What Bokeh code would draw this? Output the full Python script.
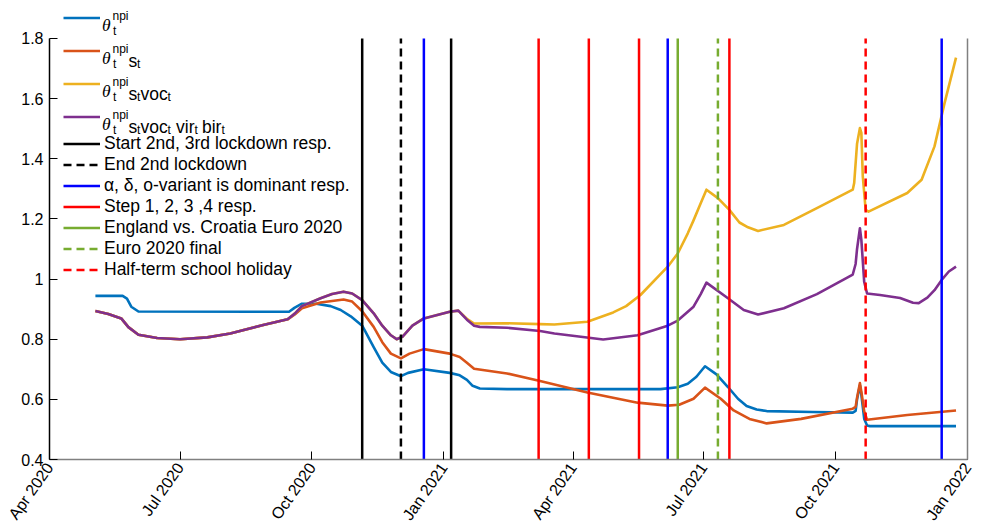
import math
import pandas as pd
from bokeh.plotting import figure
from bokeh.models import (Range1d, LinearAxis, Legend, LegendItem, Label,
                          FixedTicker, CustomJSTickFormatter)
from bokeh.core.properties import value
from bokeh.embed import file_html
from bokeh.resources import INLINE

# ---------------- data ----------------
X_START, X_END = "2020-04-01", "2022-01-01"
Y_MIN, Y_MAX = 0.4, 1.8

X_TICKS = ["2020-04-01", "2020-07-01", "2020-10-01", "2021-01-01",
           "2021-04-01", "2021-07-01", "2021-10-01", "2022-01-01"]
X_TICK_LABELS = ["Apr 2020", "Jul 2020", "Oct 2020", "Jan 2021",
                 "Apr 2021", "Jul 2021", "Oct 2021", "Jan 2022"]
Y_TICKS = [0.4, 0.6, 0.8, 1.0, 1.2, 1.4, 1.6, 1.8]
Y_TICK_LABELS = ["0.4", "0.6", "0.8", "1", "1.2", "1.4", "1.6", "1.8"]

NPI_DATES = ["2020-05-03", "2020-05-22", "2020-05-25", "2020-05-28", "2020-06-02",
             "2020-09-15", "2020-09-19", "2020-09-24", "2020-10-04", "2020-10-14",
             "2020-10-21", "2020-10-28", "2020-11-05", "2020-11-13", "2020-11-19",
             "2020-11-25", "2020-12-02", "2020-12-07", "2020-12-18", "2021-01-05",
             "2021-01-12", "2021-01-17", "2021-01-21", "2021-01-26", "2021-02-14",
             "2021-06-01", "2021-06-13", "2021-06-20", "2021-06-26", "2021-07-02",
             "2021-07-10", "2021-07-18", "2021-07-25", "2021-07-31", "2021-08-07",
             "2021-08-14", "2021-09-15", "2021-10-13", "2021-10-15", "2021-10-16",
             "2021-10-18", "2021-10-19", "2021-10-21", "2021-10-23", "2021-10-25",
             "2021-12-24"]
NPI_VALS = [0.944, 0.944, 0.935, 0.908, 0.892,
            0.891, 0.905, 0.918, 0.918, 0.910,
            0.897, 0.876, 0.845, 0.774, 0.722,
            0.691, 0.677, 0.688, 0.700, 0.688,
            0.680, 0.665, 0.645, 0.636, 0.634,
            0.634, 0.640, 0.652, 0.675, 0.710,
            0.683, 0.641, 0.602, 0.578, 0.566,
            0.561, 0.558, 0.556, 0.562, 0.600,
            0.647, 0.615, 0.535, 0.513, 0.511,
            0.511]

S_DATES = ["2020-05-03", "2020-05-12", "2020-05-21", "2020-05-26", "2020-06-02",
           "2020-06-15", "2020-07-01", "2020-07-20", "2020-08-05", "2020-08-28",
           "2020-09-14", "2020-09-19", "2020-09-24", "2020-10-07", "2020-10-23",
           "2020-10-29", "2020-11-05", "2020-11-13", "2020-11-19", "2020-11-25",
           "2020-12-02", "2020-12-08", "2020-12-18", "2021-01-05", "2021-01-12",
           "2021-01-17", "2021-01-22", "2021-02-14", "2021-03-09", "2021-04-11",
           "2021-05-16", "2021-06-06", "2021-06-14", "2021-06-24", "2021-07-02",
           "2021-07-13", "2021-07-22", "2021-08-02", "2021-08-14", "2021-09-07",
           "2021-10-13", "2021-10-15", "2021-10-16", "2021-10-18", "2021-10-19",
           "2021-10-21", "2021-10-23", "2021-11-20", "2021-12-24"]
S_VALS = [0.894, 0.884, 0.869, 0.840, 0.815,
          0.804, 0.800, 0.806, 0.819, 0.847,
          0.866, 0.882, 0.903, 0.922, 0.932,
          0.925, 0.893, 0.841, 0.790, 0.752,
          0.736, 0.752, 0.767, 0.752, 0.741,
          0.722, 0.702, 0.686, 0.661, 0.623,
          0.589, 0.579, 0.582, 0.602, 0.639,
          0.602, 0.563, 0.535, 0.520, 0.535,
          0.569, 0.575, 0.605, 0.654, 0.625,
          0.560, 0.532, 0.548, 0.563]

VOC_DATES = ["2020-05-03", "2020-05-12", "2020-05-21", "2020-05-26", "2020-06-02",
             "2020-06-15", "2020-07-01", "2020-07-20", "2020-08-05", "2020-08-28",
             "2020-09-14", "2020-09-19", "2020-09-24", "2020-10-07", "2020-10-15",
             "2020-10-23", "2020-10-29", "2020-11-05", "2020-11-13", "2020-11-19",
             "2020-11-25", "2020-11-29", "2020-12-03", "2020-12-10", "2020-12-18",
             "2021-01-05", "2021-01-11", "2021-01-17", "2021-01-22", "2021-02-14",
             "2021-03-09", "2021-03-19", "2021-04-11", "2021-04-29", "2021-05-08",
             "2021-05-18", "2021-06-06", "2021-06-13", "2021-06-20", "2021-06-24",
             "2021-06-29", "2021-07-03", "2021-07-11", "2021-07-19", "2021-07-26",
             "2021-08-01", "2021-08-08", "2021-08-26", "2021-09-18", "2021-10-13",
             "2021-10-14", "2021-10-16", "2021-10-18", "2021-10-19", "2021-10-20",
             "2021-10-22", "2021-10-24", "2021-11-20", "2021-11-30", "2021-12-09",
             "2021-12-16", "2021-12-24"]
VOC_VALS = [0.894, 0.884, 0.869, 0.840, 0.815,
            0.804, 0.800, 0.806, 0.819, 0.847,
            0.866, 0.885, 0.910, 0.936, 0.950,
            0.958, 0.952, 0.930, 0.886, 0.845,
            0.813, 0.800, 0.808, 0.845, 0.869,
            0.891, 0.895, 0.868, 0.852, 0.853,
            0.850, 0.849, 0.858, 0.889, 0.910,
            0.947, 1.041, 1.085, 1.152, 1.195,
            1.252, 1.297, 1.269, 1.230, 1.188,
            1.172, 1.160, 1.180, 1.236, 1.297,
            1.319, 1.450, 1.502, 1.486, 1.341,
            1.230, 1.224, 1.286, 1.330, 1.441,
            1.585, 1.736]

VIR_DATES = ["2020-05-03", "2020-05-12", "2020-05-21", "2020-05-26", "2020-06-02",
             "2020-06-15", "2020-07-01", "2020-07-20", "2020-08-05", "2020-08-28",
             "2020-09-14", "2020-09-19", "2020-09-24", "2020-10-07", "2020-10-15",
             "2020-10-23", "2020-10-29", "2020-11-05", "2020-11-13", "2020-11-19",
             "2020-11-25", "2020-11-29", "2020-12-03", "2020-12-10", "2020-12-18",
             "2021-01-05", "2021-01-11", "2021-01-17", "2021-01-22", "2021-01-26",
             "2021-02-14", "2021-03-09", "2021-03-19", "2021-04-22", "2021-05-16",
             "2021-06-06", "2021-06-13", "2021-06-24", "2021-06-29", "2021-07-03",
             "2021-07-18", "2021-07-29", "2021-08-08", "2021-08-26", "2021-09-18",
             "2021-10-13", "2021-10-15", "2021-10-16", "2021-10-18", "2021-10-19",
             "2021-10-21", "2021-10-23", "2021-11-01", "2021-11-15", "2021-11-24",
             "2021-11-28", "2021-12-04", "2021-12-09", "2021-12-14", "2021-12-19",
             "2021-12-24"]
VIR_VALS = [0.894, 0.884, 0.869, 0.840, 0.815,
            0.804, 0.800, 0.806, 0.819, 0.847,
            0.866, 0.885, 0.910, 0.936, 0.950,
            0.958, 0.952, 0.930, 0.886, 0.845,
            0.813, 0.800, 0.808, 0.845, 0.869,
            0.891, 0.895, 0.865, 0.845, 0.841,
            0.838, 0.827, 0.819, 0.799, 0.813,
            0.845, 0.862, 0.908, 0.950, 0.988,
            0.936, 0.897, 0.882, 0.903, 0.950,
            1.015, 1.050, 1.100, 1.169, 1.130,
            0.990, 0.952, 0.947, 0.937, 0.921,
            0.920, 0.938, 0.963, 0.997, 1.025,
            1.041]

LOCKDOWN_START = ["2020-11-05", "2021-01-06"]
LOCKDOWN_END = ["2020-12-02"]
VARIANT_DOMINANT = ["2020-12-18", "2021-06-06", "2021-12-14"]
STEPS = ["2021-03-08", "2021-04-12", "2021-05-17", "2021-07-19"]
ENG_CRO = ["2021-06-13"]
EURO_FINAL = ["2021-07-11"]
HALF_TERM = ["2021-10-22"]

EVENT_LABELS = ["Start 2nd, 3rd lockdown resp.", "End 2nd lockdown",
                "\u03b1, \u03b4, o-variant is dominant resp.", "Step 1, 2, 3 ,4 resp.",
                "England vs. Croatia Euro 2020", "Euro 2020 final",
                "Half-term school holiday"]

# ---------------- layout / styles ----------------
C_BLUE, C_ORANGE, C_YELLOW, C_PURPLE = "#0072BD", "#D95319", "#EDB120", "#7E2F8E"
C_GREEN = "#77AC30"
FONT = "Liberation Sans"

FRAME_LEFT = 49.0      # canvas x of the y axis
FRAME_BOTTOM = 460.0   # canvas y of the x axis
AXIS_TOP = 38.0        # canvas y where Y_MAX sits
# the frame reaches the canvas top so that the legend above the axes is not clipped
Y_TOP = Y_MIN + (Y_MAX - Y_MIN) * FRAME_BOTTOM / (FRAME_BOTTOM - AXIS_TOP)


def ms(s):
    return pd.Timestamp(s).value / 1e6


p = figure(width=978, height=531, x_axis_type="datetime",
           output_backend="svg", toolbar_location=None,
           x_range=Range1d(ms(X_START), ms(X_END)), y_range=Range1d(Y_MIN, Y_TOP),
           min_border_left=int(FRAME_LEFT), min_border_right=11, min_border_top=0,
           min_border_bottom=71)
p.xgrid.visible = False
p.ygrid.visible = False
p.outline_line_color = None
p.background_fill_color = "white"
p.border_fill_color = "white"

# x axis
xa = p.xaxis[0]
xa.ticker = FixedTicker(ticks=[ms(t) for t in X_TICKS])
xa.formatter = CustomJSTickFormatter(
    args=dict(vals=[ms(t) for t in X_TICKS], labs=X_TICK_LABELS),
    code="const i = vals.findIndex(v => Math.abs(v - tick) < 1); return i >= 0 ? labs[i] : '';")
xa.major_label_orientation = math.radians(55)
xa.major_tick_in = 8
xa.major_tick_out = 0
xa.minor_tick_in = 0
xa.minor_tick_out = 0
xa.axis_line_color = "#808080"
xa.axis_line_width = 1.5
xa.major_tick_line_color = "black"
xa.major_label_text_font = FONT
xa.major_label_text_font_size = "16px"
xa.major_label_text_color = "black"
xa.major_label_standoff = 5

# y axis
ya = p.yaxis[0]
ya.bounds = (Y_MIN, Y_MAX)
ya.ticker = FixedTicker(ticks=Y_TICKS)
ya.formatter = CustomJSTickFormatter(
    args=dict(vals=Y_TICKS, labs=Y_TICK_LABELS),
    code="const i = vals.findIndex(v => Math.abs(v - tick) < 1e-6); return i >= 0 ? labs[i] : '';")
ya.major_tick_in = 8
ya.major_tick_out = 0
ya.minor_tick_in = 0
ya.minor_tick_out = 0
ya.axis_line_color = "black"
ya.axis_line_width = 1.5
ya.major_tick_line_color = "black"
ya.major_label_text_font = FONT
ya.major_label_text_font_size = "16px"
ya.major_label_text_color = "black"
ya.major_label_standoff = 6

# right frame edge (no labels)
ra = LinearAxis(ticker=FixedTicker(ticks=[]), bounds=(Y_MIN, Y_MAX),
                axis_line_color="#808080", axis_line_width=1.5,
                major_tick_line_color=None, minor_tick_line_color=None)
p.add_layout(ra, "right")

# series
series = [(NPI_DATES, NPI_VALS, C_BLUE), (S_DATES, S_VALS, C_ORANGE),
          (VOC_DATES, VOC_VALS, C_YELLOW), (VIR_DATES, VIR_VALS, C_PURPLE)]
series_r = []
for d, v, c in series:
    r = p.line(x=pd.to_datetime(d), y=v, line_color=c, line_width=2.6, line_join="round")
    series_r.append(r)

# events: vertical lines spanning the y axis range
events = [(LOCKDOWN_START, "black", "solid"), (LOCKDOWN_END, "black", "8 5"),
          (VARIANT_DOMINANT, "#0000FF", "solid"), (STEPS, "#FF0000", "solid"),
          (ENG_CRO, C_GREEN, "solid"), (EURO_FINAL, C_GREEN, "8 5"),
          (HALF_TERM, "#FF0000", "8 5")]
event_r = []
for dates, col, dash in events:
    xs = pd.to_datetime(dates)
    r = p.segment(x0=xs, y0=[Y_MIN] * len(dates), x1=xs, y1=[Y_MAX] * len(dates),
                  line_color=col, line_width=2.5, line_dash=dash)
    event_r.append(r)


def fx(px):
    return px - FRAME_LEFT


def fy(py):
    return FRAME_BOTTOM - py


legA = Legend(items=[LegendItem(label=value(" "), renderers=[r]) for r in series_r],
              location=(14, 326), glyph_width=37, glyph_height=33, label_height=33,
              spacing=0, padding=0, margin=0, border_line_color=None,
              background_fill_alpha=0, label_standoff=4,
              label_text_font=FONT, label_text_font_size="17.5px")
legB = Legend(items=[LegendItem(label=value(t), renderers=[r]) for t, r in zip(EVENT_LABELS, event_r)],
              location=(14, 179), glyph_width=37, glyph_height=21, label_height=21,
              spacing=0, padding=0, margin=0, border_line_color=None,
              background_fill_alpha=0, label_standoff=4,
              label_text_font=FONT, label_text_font_size="17.5px",
              label_text_color="black")
p.add_layout(legA)
p.add_layout(legB)

ROW_C = [17.5, 50.5, 83.5, 116.5]


def piece(text, xp, yp, size, font=FONT, style="normal"):
    p.add_layout(Label(x=fx(xp), y=fy(yp), x_units="screen", y_units="screen",
                       text=text, text_font=font, text_font_size=size,
                       text_font_style=style, text_baseline="alphabetic",
                       text_color="black"))


for i, c in enumerate(ROW_C):
    piece("\u03b8", 101.5, c + 8, "17.5px", "Liberation Serif", "italic")
    piece("npi", 112, c - 1, "12px")
    piece("t", 112.5, c + 14, "12px")
    if i >= 1:
        piece("s", 128, c + 11, "17.5px")
        piece("t", 136.5, c + 14, "12px")
    if i >= 2:
        piece("voc", 140, c + 11, "17.5px")
        piece("t", 167, c + 14, "12px")
    if i >= 3:
        piece("vir", 175.5, c + 11, "17.5px")
        piece("t", 194, c + 14, "12px")
        piece("bir", 201.5, c + 11, "17.5px")
        piece("t", 221, c + 14, "12px")

open("out.html", "w").write(file_html(p, INLINE))
